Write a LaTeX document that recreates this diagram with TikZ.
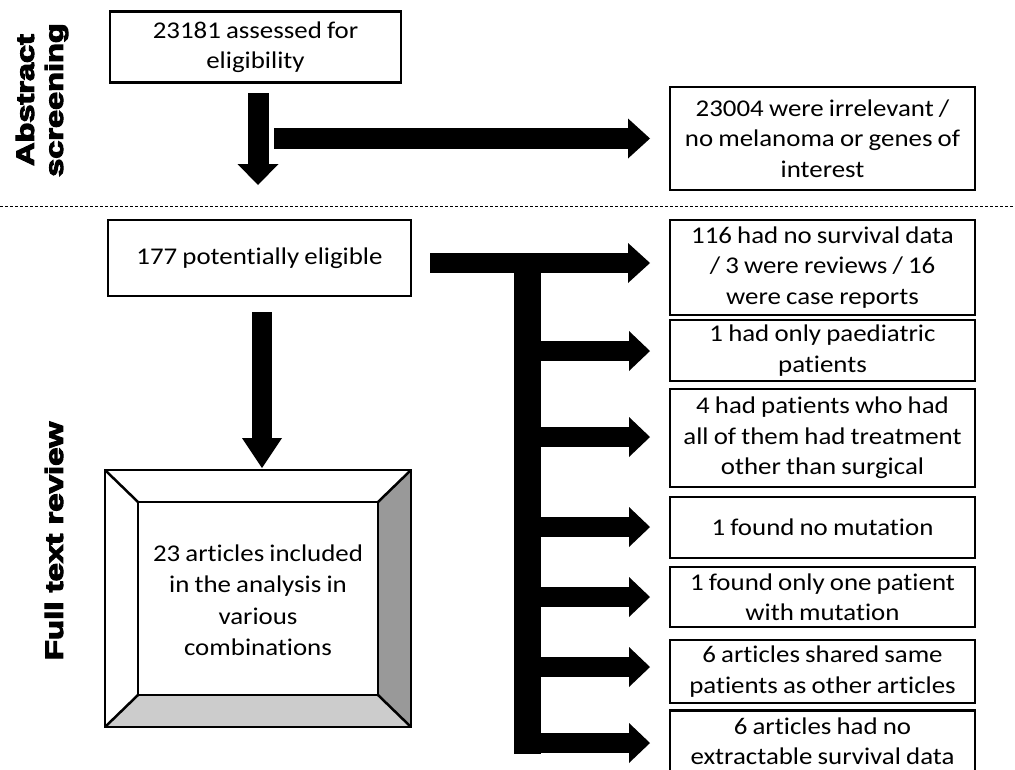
\documentclass[tikz,border=0pt]{standalone}
\usepackage{fontspec}
\setmainfont{Carlito}[Ligatures={NoCommon},FakeStretch=1.12,WordSpace=0.85]
\newfontfamily\blackfont{Liberation Sans}[UprightFont={* Bold},FakeBold=4]
\usetikzlibrary{arrows.meta}
\begin{document}
\begin{tikzpicture}[x=1pt,y=-1pt,
  box/.style={draw, line width=2.5pt, inner sep=0pt, align=center,
    font=\fontsize{24}{30.5}\selectfont},
  rbox/.style={box, minimum width=305pt},
  lbl/.style={rotate=90, align=center, inner sep=0pt, font=\blackfont\fontsize{25}{29}\selectfont},
  barrow/.style={line width=21pt, -{Triangle[length=21pt,width=41pt,line width=0pt]}},
  rarrow/.style={line width=20pt, -{Triangle[length=21pt,width=40pt,line width=0pt]}}]
\useasboundingbox (0,0) rectangle (1015,769);

% section labels
\node[lbl] (abs) at (42,100) {\scalebox{1.3}[1]{Abstract}\\\scalebox{1.3}[1]{screening}};
\node[lbl] (full) at (54,541) {\scalebox{1.32}[1]{Full text review}};
\draw[line width=1pt, dash pattern=on 3pt off 2pt] (0,206) coordinate (d1) -- (1015,206) coordinate (d2);

% boxes
\node[box, minimum width=291pt, minimum height=71pt] (b1) at (255.5,47) {23181 assessed for\\eligibility};
\node[rbox, minimum height=103pt] (b2) at (822.5,138.5) {23004 were irrelevant /\\no melanoma or genes of\\interest};
\node[box, minimum width=303pt, minimum height=76pt] (b3) at (259.5,258) {177 potentially eligible};
\node[rbox, minimum height=95pt] (bA) at (822.5,267.5) {116 had no survival data\\/ 3 were reviews / 16\\were case reports};
\node[rbox, minimum height=61pt] (bB) at (822.5,350.5) {1 had only paediatric\\patients};
\node[rbox, minimum height=98pt] (bC) at (822.5,438) {4 had patients who had\\all of them had treatment\\other than surgical};
\node[rbox, minimum height=61pt] (bD) at (822.5,527.5) {1 found no mutation};
\node[rbox, minimum height=60pt] (bE) at (822.5,597) {1 found only one patient\\with mutation};
\node[rbox, minimum height=63pt] (bF) at (822.5,671.5) {6 articles shared same\\patients as other articles};
\node[rbox, minimum height=61pt] (bG) at (822.5,741) {6 articles had no\\extractable survival data};

% bevelled final box
\fill[white] (105,470) -- (411,470) -- (378,502) -- (138,502) -- cycle;
\fill[white] (105,470) -- (138,502) -- (138,695) -- (105,727) -- cycle;
\fill[black!40] (411,470) -- (411,727) -- (378,695) -- (378,502) -- cycle;
\fill[black!20] (105,727) -- (411,727) -- (378,695) -- (138,695) -- cycle;
\draw[line width=2.5pt] (105,470) rectangle (411,727);
\draw[line width=2.5pt] (138,502) rectangle (378,695);
\draw[line width=2.5pt] (105,470) -- (138,502) (411,470) -- (378,502) (105,727) -- (138,695) (411,727) -- (378,695);
\node[box, draw=none, minimum width=240pt, minimum height=193pt, font=\fontsize{24}{31.5}\selectfont] (fin) at (258,600) {23 articles included\\in the analysis in\\various\\combinations};

% arrows
\coordinate (a1s) at (258,93);
\coordinate (a1e) at (258,185);
\draw[barrow] (a1s) -- (a1e);
\coordinate (a2s) at (274,138.5);
\draw[barrow, -{Triangle[length=22pt,width=40pt,line width=0pt]}] (a2s) -- (b2.west -| 650,0);
\coordinate (a3s) at (262,312);
\draw[line width=20pt, -{Triangle[length=30pt,width=40pt,line width=0pt]}] (a3s) -- (262,468) coordinate (a3e);

% branching arrows
\coordinate (br) at (430,263);
\fill (514,253) rectangle (541,754);
\draw[line width=20pt, -{Triangle[length=22pt,width=40pt,line width=0pt]}] (br) -- (650,263) coordinate (tA);
\foreach \n/\y in {B/351, C/437, D/527, E/597, F/667, G/743} {
  \draw[rarrow] (527,\y) -- (650,\y) coordinate (t\n);
}
\end{tikzpicture}
\end{document}
